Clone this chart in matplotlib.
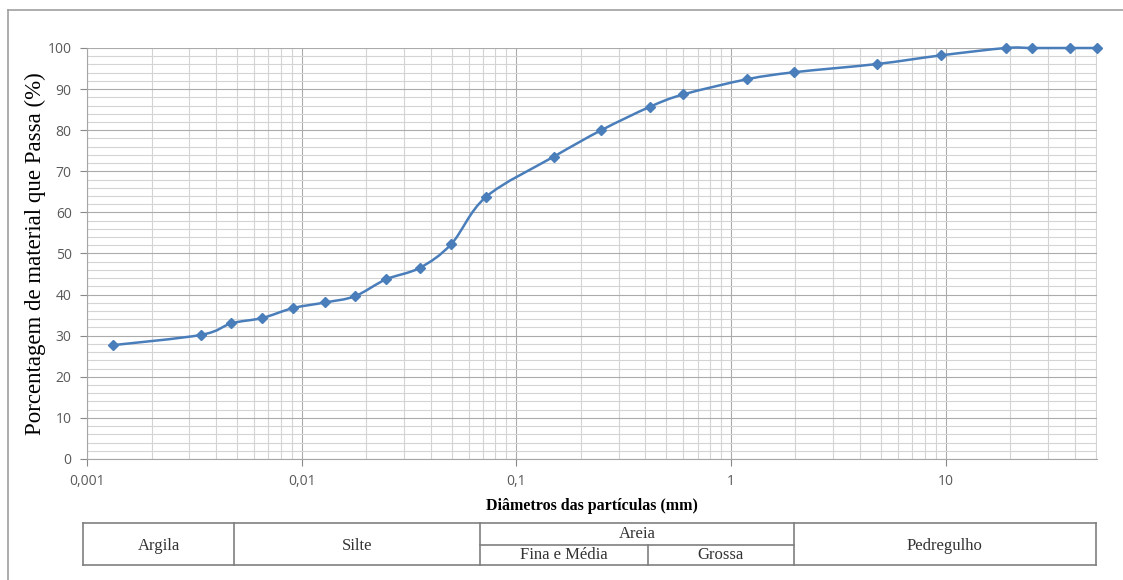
import matplotlib
matplotlib.use("Agg")
import matplotlib.pyplot as plt
import numpy as np
from matplotlib.path import Path
from matplotlib.patches import PathPatch
from matplotlib.ticker import LogLocator, FixedLocator, FuncFormatter, MultipleLocator
from matplotlib.lines import Line2D
import matplotlib.transforms as mtransforms

# granulometria
diametros = [0.00132, 0.0034, 0.0047, 0.00655, 0.0091, 0.0129, 0.0177, 0.0247,
             0.0355, 0.0498, 0.0724, 0.150, 0.249, 0.42, 0.60, 1.19, 1.97,
             4.79, 9.5, 19.1, 25.4, 38.1, 50.8]
passante = [27.7, 30.2, 33.0, 34.3, 36.7, 38.1, 39.6, 43.7, 46.5, 52.3, 63.8,
            73.6, 80.0, 85.7, 88.7, 92.4, 94.1, 96.1, 98.2, 100, 100, 100, 100]

x_ticks = [0.001, 0.01, 0.1, 1, 10]
x_ticklabels = ["0,001", "0,01", "0,1", "1", "10"]

# limites das classes (mm) para a tabela
limites = [0.000958, 0.00484, 0.068, 0.41, 1.96, 50.3]
classes = ["Argila", "Silte", "Areia", "Pedregulho"]
sub_areia = ["Fina e Média", "Grossa"]

azul = "#4A7EBB"
serif = "Liberation Serif"
tickfont = ["Open Sans", "DejaVu Sans"]

fig = plt.figure(figsize=(11.23, 5.80), dpi=100)
ax = fig.add_axes([87/1123, 1-459/580, 1010/1123, 411/580])
ax.set_xscale("log")
ax.set_xlim(0.001, 50.8)
ax.set_ylim(0, 100)

# grid
ax.xaxis.set_major_locator(FixedLocator(x_ticks))
ax.xaxis.set_minor_locator(LogLocator(base=10, subs=np.arange(2, 10), numticks=20))
ax.xaxis.set_major_formatter(FuncFormatter(lambda v, p: x_ticklabels[x_ticks.index(v)] if v in x_ticks else ""))
ax.xaxis.set_minor_formatter(FuncFormatter(lambda v, p: ""))
ax.yaxis.set_major_locator(MultipleLocator(10))
ax.yaxis.set_minor_locator(MultipleLocator(2))
ax.grid(which="major", color="#ABABAB", linewidth=0.8)
ax.grid(which="minor", color="#D4D4D4", linewidth=0.8)
ax.set_axisbelow(True)
ax.tick_params(which="major", length=5, color="#888888", labelcolor="#595959", labelsize=10, pad=6)
ax.tick_params(which="minor", length=0)
for lab in ax.get_xticklabels() + ax.get_yticklabels():
    lab.set_family(tickfont)
for s in ["top", "right"]:
    ax.spines[s].set_visible(False)
for s in ["left", "bottom"]:
    ax.spines[s].set_color("#A6A6A6")

# curva suavizada (bezier em log-x)
lx = np.log10(diametros)
py = np.array(passante, dtype=float)
n = len(lx)
verts = [(diametros[0], passante[0])]
codes = [Path.MOVETO]
for i in range(n - 1):
    i0 = max(i - 1, 0)
    i3 = min(i + 2, n - 1)
    c1x = lx[i] + (lx[i + 1] - lx[i0]) / 6
    c1y = py[i] + (py[i + 1] - py[i0]) / 6
    c2x = lx[i + 1] - (lx[i3] - lx[i]) / 6
    c2y = py[i + 1] - (py[i3] - py[i]) / 6
    verts += [(10**c1x, c1y), (10**c2x, c2y), (diametros[i + 1], passante[i + 1])]
    codes += [Path.CURVE4] * 3
ax.add_patch(PathPatch(Path(verts, codes), fill=False, edgecolor=azul, linewidth=1.8, clip_on=False))
ax.plot(diametros, passante, linestyle="none", marker="D", markersize=5.5, color=azul, clip_on=False, zorder=5)

ax.set_ylabel("Porcentagem de material que Passa (%)", family=serif, fontsize=16.5, labelpad=1)
ax.set_xlabel("Diâmetros das partículas (mm)", family=serif, fontsize=11.5, fontweight="bold", labelpad=6)

# tabela de classificação
trans = mtransforms.blended_transform_factory(ax.transData, fig.transFigure)
y_top, y_mid, y_bot = 1 - 523/580, 1 - 545/580, 1 - 565/580
lc = "#7F7F7F"
def seg(x0, x1, y0, y1):
    fig.add_artist(Line2D([x0, x1], [y0, y1], transform=trans, color=lc, linewidth=1.2))
seg(limites[0], limites[-1], y_top, y_top)
seg(limites[0], limites[-1], y_bot, y_bot)
seg(limites[2], limites[4], y_mid, y_mid)
for i, b in enumerate(limites):
    if i == 3:
        seg(b, b, y_mid, y_bot)
    else:
        seg(b, b, y_top, y_bot)
centros = [np.sqrt(limites[0]*limites[1]), np.sqrt(limites[1]*limites[2]),
           np.sqrt(limites[2]*limites[4]), np.sqrt(limites[4]*limites[5])]
for c, nome in zip(centros, classes):
    yy = (y_top + y_mid) / 2 if nome == "Areia" else (y_top + y_bot) / 2 - 0.004
    fig.text(c, yy, nome, transform=trans, ha="center", va="center", family=serif, fontsize=12, color="#333333")
sub_c = [np.sqrt(limites[2]*limites[3]), np.sqrt(limites[3]*limites[4])]
for c, nome in zip(sub_c, sub_areia):
    fig.text(c, (y_mid + y_bot) / 2, nome, transform=trans, ha="center", va="center", family=serif, fontsize=12, color="#333333")

# moldura
fig.add_artist(Line2D([8/1123, 1], [1-10/580, 1-10/580], color="#A0A0A0", linewidth=1.2))
fig.add_artist(Line2D([8/1123, 8/1123], [0, 1-10/580], color="#A0A0A0", linewidth=1.2))

fig.savefig("out.png", dpi=100)
